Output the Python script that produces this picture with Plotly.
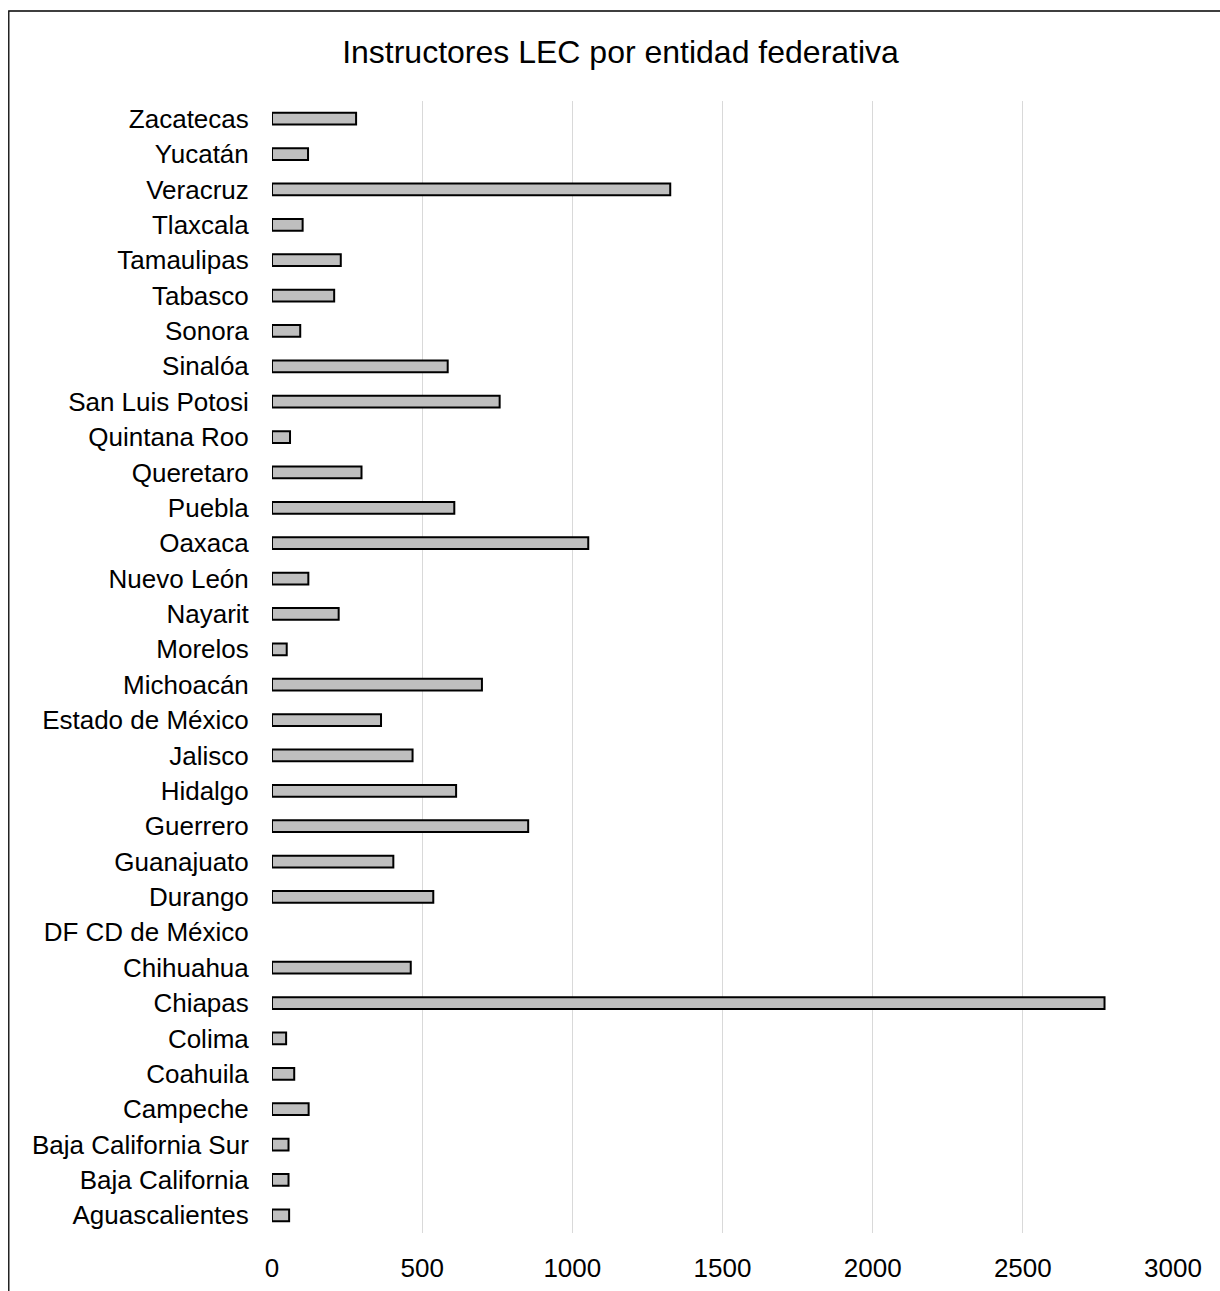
import plotly.graph_objects as go

# Categories listed bottom-to-top (as they appear from bottom of the chart upward)
states = [
    "Aguascalientes", "Baja California", "Baja California Sur", "Campeche",
    "Coahuila", "Colima", "Chiapas", "Chihuahua", "DF CD de México", "Durango",
    "Guanajuato", "Guerrero", "Hidalgo", "Jalisco", "Estado de México",
    "Michoacán", "Morelos", "Nayarit", "Nuevo León", "Oaxaca", "Puebla",
    "Queretaro", "Quintana Roo", "San Luis Potosi", "Sinalóa", "Sonora",
    "Tabasco", "Tamaulipas", "Tlaxcala", "Veracruz", "Yucatán", "Zacatecas",
]
instructores = [
    57, 55, 55, 122,
    74, 47, 2772, 462, 0, 537,
    404, 853, 613, 468, 363,
    699, 49, 222, 121, 1053, 607,
    298, 60, 758, 585, 94,
    207, 229, 102, 1326, 120, 280,
]
x_ticks = [0, 500, 1000, 1500, 2000, 2500, 3000]
title_text = "Instructores LEC por entidad federativa"

FONT = "Arial, Liberation Sans, sans-serif"

fig = go.Figure()
fig.add_trace(go.Bar(
    x=instructores,
    y=states,
    orientation="h",
    width=0.33,
    marker=dict(
        color="#bfbfbf",
        line=dict(color="#000000", width=[0 if v == 0 else 2 for v in instructores]),
    ),
    showlegend=False,
))

W, H = 1220, 1291
L, R, T, B = 271.5, 1220 - 1173.5, 101, 1291 - 1233
pw, ph = W - L - R, H - T - B

fig.update_layout(
    width=W, height=H,
    margin=dict(l=L, r=R, t=T, b=B, pad=0, autoexpand=False),
    paper_bgcolor="white",
    plot_bgcolor="white",
    font=dict(family=FONT, color="#000000", size=26),
    title=dict(
        text=title_text,
        x=620.5 / W, xref="container", xanchor="center",
        y=1 - 52 / H, yref="container", yanchor="middle",
        font=dict(family=FONT, size=32, color="#000000"),
    ),
    xaxis=dict(
        range=[0, 3000],
        tickvals=x_ticks,
        ticktext=[str(v) for v in x_ticks],
        showgrid=True, gridcolor="#d9d9d9", gridwidth=1.3,
        zeroline=False, showline=False, automargin=False,
        ticks="outside", ticklen=12, tickcolor="rgba(0,0,0,0)",
        tickfont=dict(family=FONT, size=26, color="#000000"),
    ),
    yaxis=dict(
        type="category",
        categoryorder="array", categoryarray=states,
        showgrid=False, zeroline=False, showline=False, automargin=False,
        ticks="outside", ticklen=17, tickcolor="rgba(0,0,0,0)",
        tickfont=dict(family=FONT, size=26, color="#000000"),
    ),
    shapes=[dict(
        type="rect", xref="paper", yref="paper",
        x0=(8 - L) / pw, x1=(1230 - L) / pw,
        y0=(H - 1300 - B) / ph, y1=(H - 11 - B) / ph,
        line=dict(color="#000000", width=1.3),
        fillcolor="rgba(0,0,0,0)",
        layer="below",
    )],
)

fig.write_html("out.html")
